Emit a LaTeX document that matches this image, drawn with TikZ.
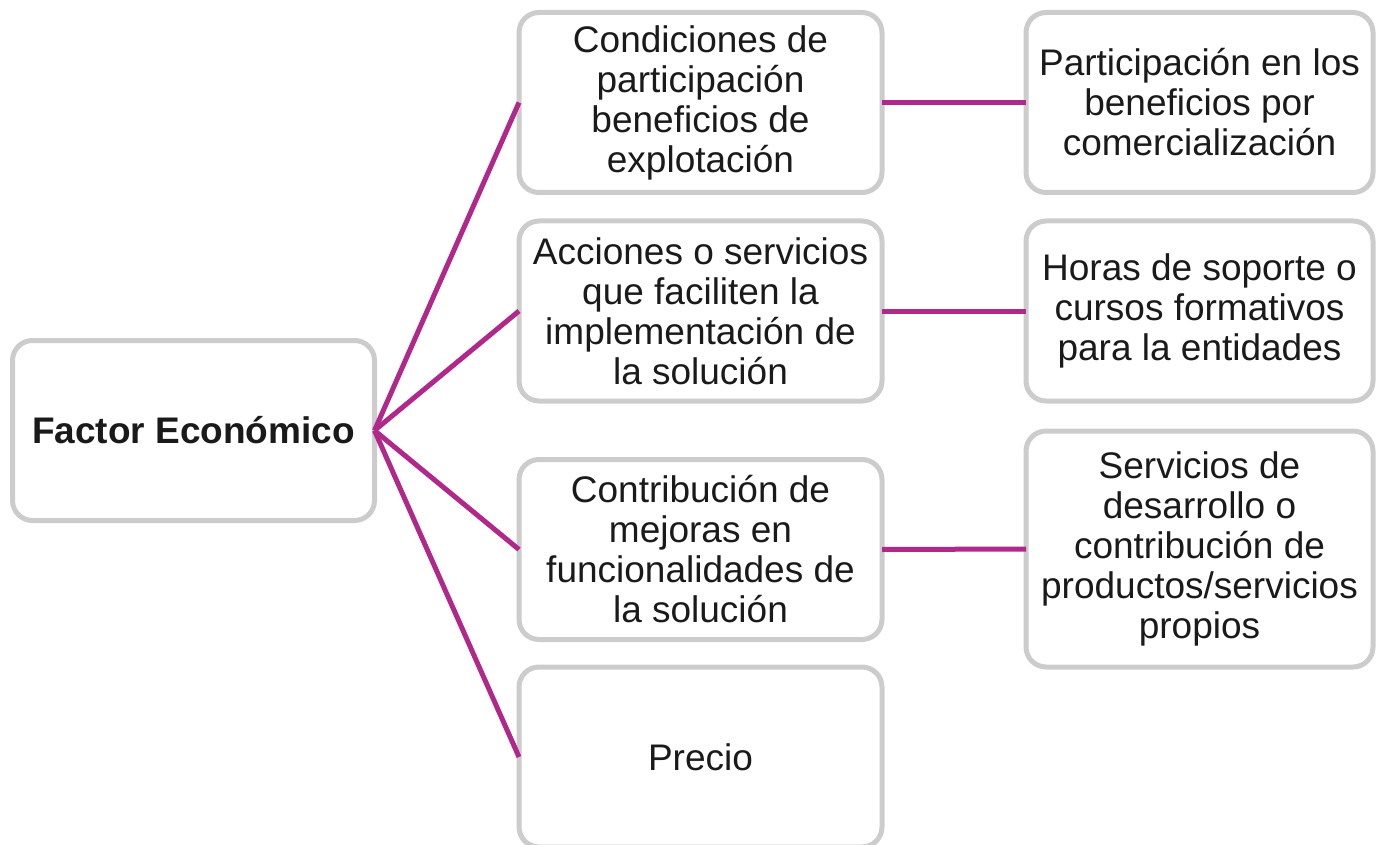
\documentclass[tikz,border=0pt]{standalone}
\usepackage{fontspec}
\setmainfont{Liberation Sans}
\definecolor{boxgray}{HTML}{CCCCCC}
\definecolor{linkmag}{HTML}{B0298A}
\definecolor{txt}{HTML}{1A1A1A}
\begin{document}
\begin{tikzpicture}[x=1pt,y=-1pt,
  card/.style={draw=boxgray,line width=5pt,fill=white,rounded corners=20pt,
    inner sep=0pt,outer sep=0pt,align=center,text=txt,
    font=\fontsize{37}{40}\selectfont},
  midcard/.style={card,minimum width=363pt,minimum height=180pt},
  rightcard/.style={card,minimum width=347pt,minimum height=180pt},
  link/.style={draw=linkmag,line width=5pt}]
\useasboundingbox (0,0) rectangle (1376,845);
\node[card,minimum width=362pt,minimum height=180pt,font=\fontsize{37}{40}\selectfont\bfseries] (root) at (193.5,430.5) {Factor Económico};
\node[midcard] (m1) at (700.5,102.5) {Condiciones de\\participación\\beneficios de\\explotación};
\node[midcard] (m2) at (700.5,311) {Acciones o servicios\\que faciliten la\\implementación de\\la solución};
\node[midcard] (m3) at (700.5,549.5) {Contribución de\\mejoras en\\funcionalidades de\\la solución};
\node[midcard] (m4) at (700.5,757) {Precio};
\node[rightcard] (r1) at (1199.5,102.5) {Participación en los\\beneficios por\\comercialización};
\node[rightcard] (r2) at (1199.5,311) {Horas de soporte o\\cursos formativos\\para la entidades};
\node[rightcard,minimum height=236pt] (r3) at (1199.5,549) {Servicios de\\desarrollo o\\contribución de\\productos/servicios\\propios};
\foreach \m in {m1,m2,m3,m4} \draw[link] (root.east) -- (\m.west);
\draw[link] (m1.east) -- (r1.west);
\draw[link] (m2.east) -- (r2.west);
\draw[link] (m3.east) -- (r3.west);
\end{tikzpicture}
\end{document}
